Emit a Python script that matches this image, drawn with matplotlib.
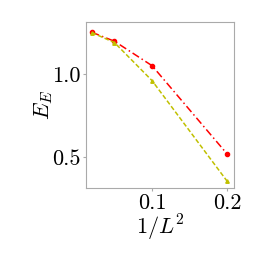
import numpy as np
import matplotlib
matplotlib.use('Agg')
from matplotlib import pyplot as plt

plt.rcParams.update({'font.size': 16,
                     'font.family': 'serif',
                     'font.serif': ['cmr10'],
                     'mathtext.fontset': 'cm',
                     'axes.formatter.use_mathtext': True})

inv_L2 = [0.02, 0.05, 0.1, 0.2]
e_red = [1.251, 1.197, 1.05, 0.518]
e_yellow = [1.249, 1.189, 0.96, 0.354]

fig = plt.figure(figsize=(2.62, 2.62), dpi=100)
ax = fig.add_axes([0.328, 0.282, 0.565, 0.634])

ax.plot(inv_L2, e_red, color='red', linestyle=(0, (5, 2, 1, 2)), marker='o', markersize=3, linewidth=1.1)
ax.plot(inv_L2, e_yellow, color='#c0c000', linestyle=(0, (3, 1.5)), marker='^', markersize=2.5, linewidth=1.1)

ax.set_xlim(0.012, 0.209)
ax.set_ylim(0.313, 1.313)
ax.set_xticks([0.1, 0.2])
ax.set_yticks([0.5, 1.0])
ax.set_xticklabels(['0.1', '0.2'])
ax.set_yticklabels(['0.5', '1.0'])
for s in ax.spines.values():
    s.set_color('#aaaaaa')
ax.tick_params(color='#aaaaaa', length=2, width=0.8, pad=2)
ax.set_xlabel(r'$1/L^2$', labelpad=0)
ax.set_ylabel(r'$E_E$', labelpad=-2)

fig.savefig('out.png', dpi=100)
